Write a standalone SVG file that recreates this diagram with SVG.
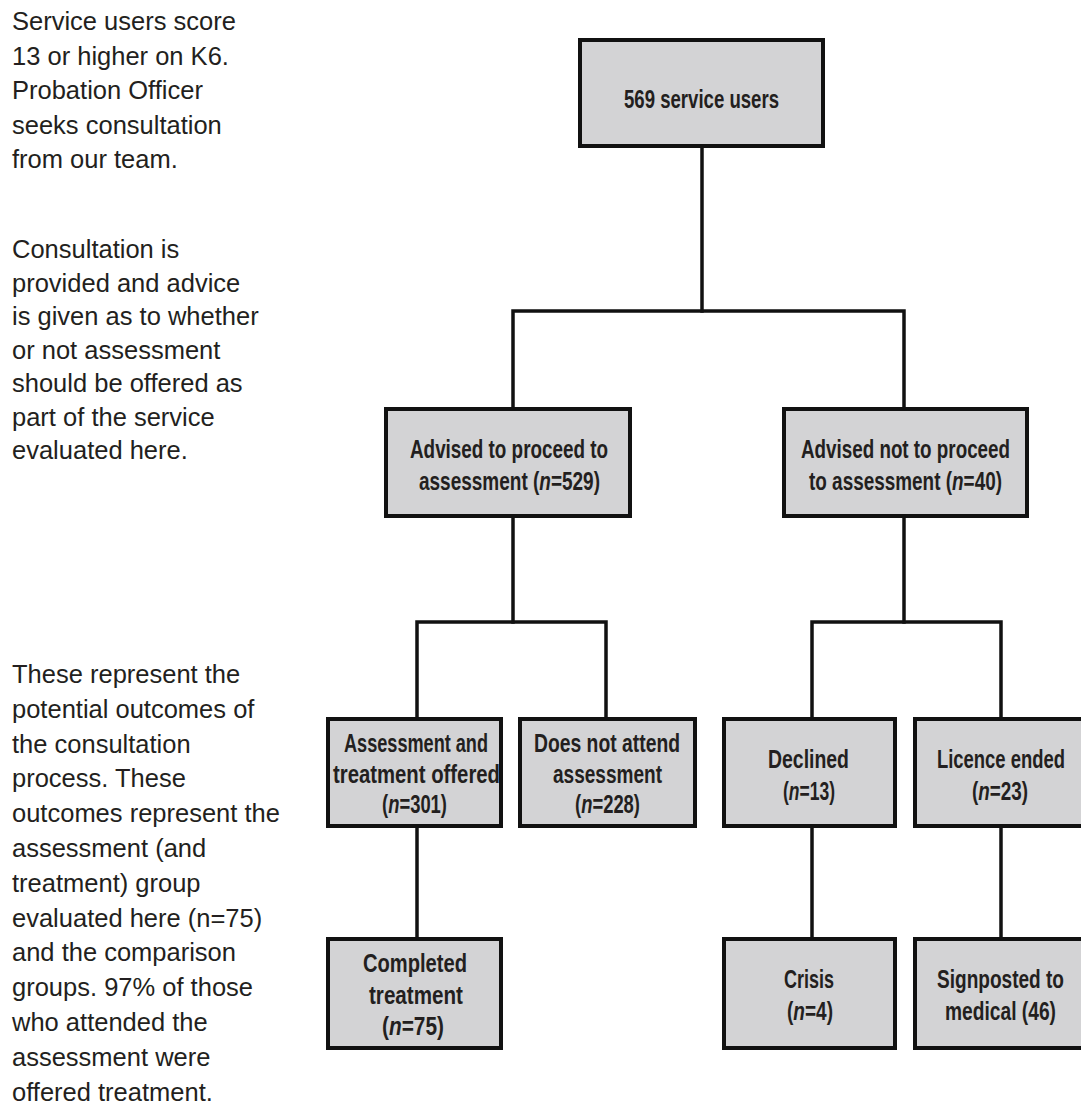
<svg xmlns="http://www.w3.org/2000/svg" width="1081" height="1110" viewBox="0 0 1081 1110">
<style>
  .box { fill: #d3d3d5; stroke: #111; stroke-width: 4; }
  .bt { font-family: "Liberation Sans", Arial, sans-serif; font-weight: bold; font-size: 26px; fill: #231f20; text-anchor: middle; }
  .it { font-style: italic; }
  .note { font-family: "Liberation Sans", Arial, sans-serif; font-size: 25.5px; fill: #231f20; }
  .conn { fill: none; stroke: #111; stroke-width: 3.5; stroke-linecap: square; stroke-linejoin: miter; }
</style>
<rect width="1081" height="1110" fill="#ffffff"/>

<g id="notes">
  <text class="note" x="12" y="30">
    <tspan x="12" y="30">Service users score</tspan>
    <tspan x="12" y="65">13 or higher on K6.</tspan>
    <tspan x="12" y="99">Probation Officer</tspan>
    <tspan x="12" y="134">seeks consultation</tspan>
    <tspan x="12" y="168">from our team.</tspan>
  </text>
  <text class="note" x="12" y="258">
    <tspan x="12" y="258">Consultation is</tspan>
    <tspan x="12" y="291.5">provided and advice</tspan>
    <tspan x="12" y="325">is given as to whether</tspan>
    <tspan x="12" y="358.5">or not assessment</tspan>
    <tspan x="12" y="392">should be offered as</tspan>
    <tspan x="12" y="425.5">part of the service</tspan>
    <tspan x="12" y="459">evaluated here.</tspan>
  </text>
  <text class="note" x="12" y="683">
    <tspan x="12" y="683">These represent the</tspan>
    <tspan x="12" y="717.8">potential outcomes of</tspan>
    <tspan x="12" y="752.6">the consultation</tspan>
    <tspan x="12" y="787.4">process. These</tspan>
    <tspan x="12" y="822.2">outcomes represent the</tspan>
    <tspan x="12" y="857">assessment (and</tspan>
    <tspan x="12" y="891.8">treatment) group</tspan>
    <tspan x="12" y="926.6">evaluated here (n=75)</tspan>
    <tspan x="12" y="961.4">and the comparison</tspan>
    <tspan x="12" y="996.2">groups. 97% of those</tspan>
    <tspan x="12" y="1031">who attended the</tspan>
    <tspan x="12" y="1065.8">assessment were</tspan>
    <tspan x="12" y="1100.6">offered treatment.</tspan>
  </text>
</g>

<g id="connectors">
  <path class="conn" d="M702,148 V311"/>
  <path class="conn" d="M513,407 V311 H904 V407"/>
  <path class="conn" d="M513,518 V622"/>
  <path class="conn" d="M417,717 V622 H606 V717"/>
  <path class="conn" d="M904,518 V622"/>
  <path class="conn" d="M812,717 V622 H1001 V717"/>
  <path class="conn" d="M417,828 V937"/>
  <path class="conn" d="M812,828 V937"/>
  <path class="conn" d="M1001,828 V937"/>
</g>

<g id="n-total">
  <rect class="box" x="580" y="40" width="243" height="106"/>
  <text class="bt" x="701.5" y="108" textLength="155" lengthAdjust="spacingAndGlyphs">569 service users</text>
</g>

<g id="n-proceed">
  <rect class="box" x="386" y="409" width="244" height="107"/>
  <text class="bt" x="509" y="458" textLength="198" lengthAdjust="spacingAndGlyphs">Advised to proceed to</text>
  <text class="bt" x="509.5" y="490" textLength="181" lengthAdjust="spacingAndGlyphs">assessment (<tspan class="it">n</tspan>=529)</text>
</g>

<g id="n-notproceed">
  <rect class="box" x="784" y="409" width="243" height="107"/>
  <text class="bt" x="905.5" y="458" textLength="209" lengthAdjust="spacingAndGlyphs">Advised not to proceed</text>
  <text class="bt" x="905.5" y="490" textLength="193" lengthAdjust="spacingAndGlyphs">to assessment (<tspan class="it">n</tspan>=40)</text>
</g>

<g id="n-offered">
  <rect class="box" x="328" y="719" width="173" height="107"/>
  <text class="bt" x="416" y="752" textLength="144" lengthAdjust="spacingAndGlyphs">Assessment and</text>
  <text class="bt" x="416.5" y="783" textLength="167" lengthAdjust="spacingAndGlyphs">treatment offered</text>
  <text class="bt" x="414.5" y="813" textLength="65" lengthAdjust="spacingAndGlyphs">(<tspan class="it">n</tspan>=301)</text>
</g>

<g id="n-noattend">
  <rect class="box" x="520" y="719" width="175" height="107"/>
  <text class="bt" x="607" y="752" textLength="146" lengthAdjust="spacingAndGlyphs">Does not attend</text>
  <text class="bt" x="607.5" y="783" textLength="109" lengthAdjust="spacingAndGlyphs">assessment</text>
  <text class="bt" x="607.5" y="813" textLength="65" lengthAdjust="spacingAndGlyphs">(<tspan class="it">n</tspan>=228)</text>
</g>

<g id="n-declined">
  <rect class="box" x="724" y="719" width="171" height="107"/>
  <text class="bt" x="808.5" y="768" textLength="81" lengthAdjust="spacingAndGlyphs">Declined</text>
  <text class="bt" x="809" y="800" textLength="52" lengthAdjust="spacingAndGlyphs">(<tspan class="it">n</tspan>=13)</text>
</g>

<g id="n-licence">
  <rect class="box" x="915" y="719" width="172" height="107"/>
  <text class="bt" x="1001" y="768" textLength="128" lengthAdjust="spacingAndGlyphs">Licence ended</text>
  <text class="bt" x="1000" y="800" textLength="56" lengthAdjust="spacingAndGlyphs">(<tspan class="it">n</tspan>=23)</text>
</g>

<g id="n-completed">
  <rect class="box" x="328" y="939" width="173" height="109"/>
  <text class="bt" x="415" y="972" textLength="104" lengthAdjust="spacingAndGlyphs">Completed</text>
  <text class="bt" x="416" y="1004" textLength="94" lengthAdjust="spacingAndGlyphs">treatment</text>
  <text class="bt" x="413" y="1035" textLength="62" lengthAdjust="spacingAndGlyphs">(<tspan class="it">n</tspan>=75)</text>
</g>

<g id="n-crisis">
  <rect class="box" x="724" y="939" width="171" height="109"/>
  <text class="bt" x="809" y="988" textLength="50" lengthAdjust="spacingAndGlyphs">Crisis</text>
  <text class="bt" x="810" y="1020" textLength="46" lengthAdjust="spacingAndGlyphs">(<tspan class="it">n</tspan>=4)</text>
</g>

<g id="n-signposted">
  <rect class="box" x="915" y="939" width="172" height="109"/>
  <text class="bt" x="1000.5" y="988" textLength="127" lengthAdjust="spacingAndGlyphs">Signposted to</text>
  <text class="bt" x="1000.5" y="1020" textLength="111" lengthAdjust="spacingAndGlyphs">medical (46)</text>
</g>
</svg>
